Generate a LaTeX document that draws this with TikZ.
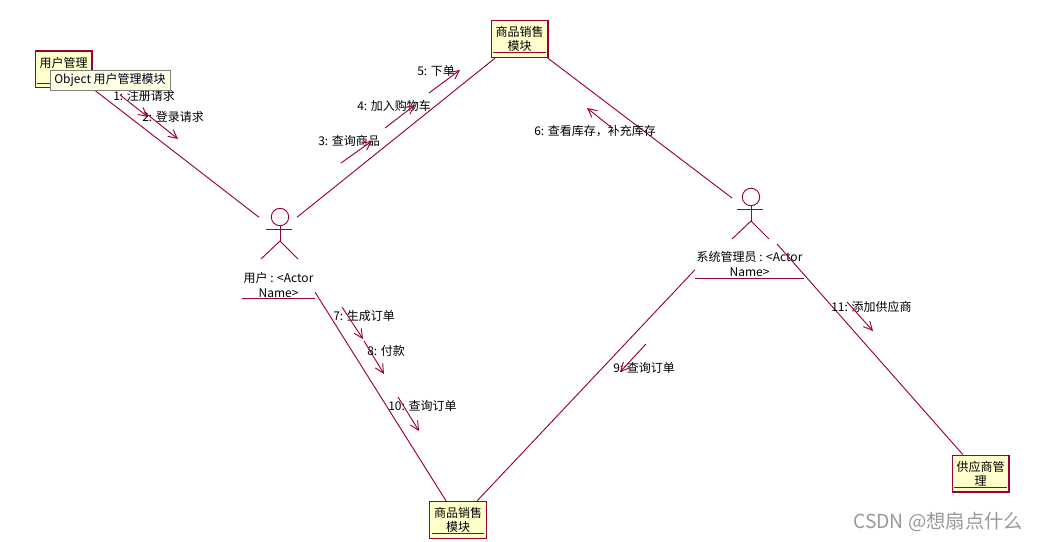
\documentclass[tikz,border=0pt]{standalone}
\usepackage{fontspec}
\setmainfont{Noto Sans CJK SC}
\usepackage{xcolor}
\usetikzlibrary{arrows.meta,positioning,calc}
\definecolor{umlline}{HTML}{990033}
\definecolor{umlfill}{HTML}{FFFFCC}
\definecolor{tipfill}{HTML}{FFFFE1}
\tikzset{
  umlbox/.style={draw=umlline, fill=umlfill, line width=1pt, minimum width=42.5pt, minimum height=27.5pt,
    inner sep=0pt, align=center, font=\fontsize{9}{10.5}\selectfont},
  actorarea/.style={inner sep=0pt, outer sep=0pt},
  actorname/.style={inner sep=0pt, outer sep=0pt, align=center, font=\fontsize{9}{11}\selectfont},
  umlconn/.style={umlline, line width=0.7pt},
  msgarrow/.style={umlline, line width=0.7pt, -{Straight Barb[length=6.5pt,width=6.5pt]}},
  msglabel/.style={anchor=west, inner sep=0pt, font=\fontsize{9}{11}\selectfont},
  actorfig/.pic={
    \draw[umlconn] (0,0) circle (8.7);
    \draw[umlconn] (-14,12) -- (12,12);
    \draw[umlconn] (0,8.7) -- (0,24);
    \draw[umlconn] (-19,42) -- (0,24) -- (18,42);
  }
}

\begin{document}
\begin{tikzpicture}[x=0.75pt, y=-0.75pt]
  \useasboundingbox (0,0) rectangle (1039,542);

  % Object boxes
  \node[umlbox] (userbox) at (63.5,69.5) {用户管理\\\mbox{}};
  \node[umlbox] (salesTop) at (519.5,39) {商品销售\\模块};
  \node[umlbox] (salesBot) at (458,520) {商品销售\\模块};
  \node[umlbox] (supplierbox) at (980.5,473.5) {供应商管\\理};
  \foreach \boxname in {userbox,salesTop,salesBot,supplierbox} {
    \draw[umlconn] ([xshift=2pt,yshift=3.8pt]\boxname.south west) -- ([xshift=-2pt,yshift=3.8pt]\boxname.south east);
  }

  % Actors
  \pic at (280,217) {actorfig};
  \pic at (751,197) {actorfig};
  \node[actorarea, minimum width=28.5pt, minimum height=31.1pt] (useract) at (278,238) {};
  \node[actorarea, minimum width=33.75pt, minimum height=34.5pt] (adminact) at (754.5,221) {};
  \node[actorname, minimum width=54.75pt, minimum height=20.25pt] (username) at (278.5,285) {用户 : <Actor\\Name>};
  \node[actorname, minimum width=81.75pt, minimum height=21pt] (adminname) at (749.5,264) {系统管理员 : <Actor\\Name>};
  \draw[umlconn] (username.south west) -- (username.south east);
  \draw[umlconn] (adminname.south west) -- (adminname.south east);

  % Links
  \draw[umlconn] (userbox.south east) -- (useract.north west);
  \draw[umlconn] (salesTop.-142) -- (useract.north east);
  \draw[umlconn] (salesTop.-34.6) -- (adminact.north west);
  \draw[umlconn] (username.-11.6) -- (salesBot.122.3);
  \draw[umlconn] (adminname.186.4) -- (salesBot.45);
  \draw[umlconn] (adminact.south east) -- (supplierbox.133.4);

  % Message labels
  \node[msglabel] (msg1) at (113,96) {1: 注册请求};
  \node[msglabel] (msg2) at (142,117) {2: 登录请求};
  \node[msglabel] (msg3) at (318,141) {3: 查询商品};
  \node[msglabel] (msg4) at (357,106) {4: 加入购物车};
  \node[msglabel] (msg5) at (417,71) {5: 下单};
  \node[msglabel] (msg6) at (534,131) {6: 查看库存，补充库存};
  \node[msglabel] (msg7) at (333,316) {7: 生成订单};
  \node[msglabel] (msg8) at (367,351) {8: 付款};
  \node[msglabel] (msg9) at (613,368) {9: 查询订单};
  \node[msglabel] (msg10) at (388,406) {10: 查询订单};
  \node[msglabel] (msg11) at (831,307) {11: 添加供应商};

  % Message arrows
  \foreach \m/\sx/\sy/\tx/\ty in {1/120/95/148/117, 2/148/115/178/139, 3/341/163/372/141, 4/385/128/415/105,
    5/429/93/460/70, 6/612/128/587/108, 7/342/307/363/339, 8/364/341/384/374,
    9/646/344/620/372, 10/398/397/419/431, 11/847/302/873/331} {
    \coordinate (from\m) at (\sx,\sy);
    \coordinate (to\m) at (\tx,\ty);
    \draw[msgarrow] (from\m) -- (to\m);
  }

  % Tooltip and watermark
  \node[draw=gray, fill=tipfill, line width=0.7pt, inner sep=0pt, minimum width=90pt, minimum height=15.4pt,
    font=\fontsize{9}{11}\selectfont, text=black!85!blue] (tooltip) at (110,80.3) {Object 用户管理模块};
  \node[anchor=west, inner sep=0pt, text=black!40, font=\fontsize{14.5}{17}\selectfont] (watermark) at (853,522) {CSDN @想扇点什么};
\end{tikzpicture}
\end{document}
